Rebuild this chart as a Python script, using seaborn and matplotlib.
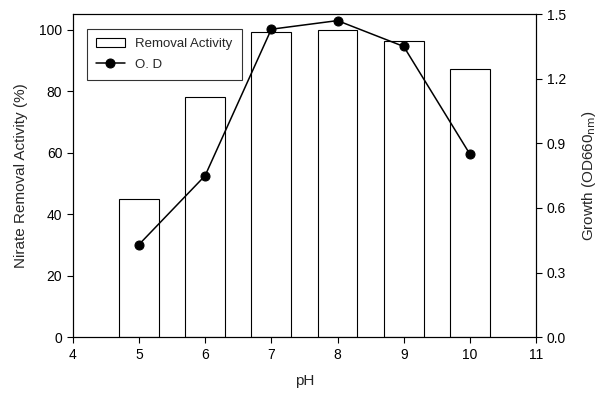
import matplotlib
matplotlib.use("Agg")
import matplotlib.pyplot as plt
import seaborn as sns
import pandas as pd

sns.set_style("white")
plt.rcParams['font.family'] = ['Liberation Sans', 'DejaVu Sans']

# Data
ph = [5, 6, 7, 8, 9, 10]
removal_activity = [45.0, 78.0, 99.3, 99.7, 96.4, 87.3]
od660 = [0.43, 0.75, 1.43, 1.47, 1.35, 0.85]

df = pd.DataFrame({'pH': ph, 'removal': removal_activity, 'od': od660})

fig = plt.figure(figsize=(6.01, 3.93), dpi=100)
ax = fig.add_axes([0.121, 0.142, 0.771, 0.822])

sns.barplot(data=df, x='pH', y='removal', native_scale=True, width=0.6,
            color='white', edgecolor='black', linewidth=0.8, ax=ax,
            label='Removal Activity')
ax.set_xlim(4, 11)
ax.set_ylim(0, 105)
ax.set_xticks(range(4, 12))
ax.set_yticks([0, 20, 40, 60, 80, 100])
ax.set_xlabel('pH', fontsize=11, labelpad=9)
ax.set_ylabel('Nirate Removal Activity (%)', fontsize=11, labelpad=8)

ax2 = ax.twinx()
sns.lineplot(data=df, x='pH', y='od', marker='o', color='black',
             markersize=6.5, linewidth=1.1, markeredgecolor='black',
             ax=ax2, label='O. D', legend=False)
ax2.set_ylim(0, 1.5)
ax2.set_yticks([0.0, 0.3, 0.6, 0.9, 1.2, 1.5])
ax2.set_yticklabels(['0.0', '0.3', '0.6', '0.9', '1.2', '1.5'])
ax2.set_ylabel('Growth (OD660$_{\\mathrm{nm}}$)', fontsize=11, labelpad=10)
ax2.set_xlim(4, 11)

for a in (ax, ax2):
    for s in a.spines.values():
        s.set_color('black')
        s.set_linewidth(0.8)
    a.tick_params(direction='out', length=4, width=0.8, colors='black',
                  labelsize=10)
ax.tick_params(axis='both', which='both', left=True, bottom=True)
ax2.tick_params(axis='y', right=True)

h1, l1 = ax.get_legend_handles_labels()
h2, l2 = ax2.get_legend_handles_labels()
if ax.get_legend() is not None:
    ax.get_legend().remove()
leg = ax2.legend(h1 + h2, l1 + l2, loc='upper left',
                 bbox_to_anchor=(0.03, 0.954), borderaxespad=0,
                 fontsize=9.5, frameon=True, fancybox=False,
                 edgecolor='black', borderpad=0.7, handlelength=2.2,
                 labelspacing=0.6)
leg.get_frame().set_linewidth(0.8)

fig.savefig('out.png', dpi=100)
